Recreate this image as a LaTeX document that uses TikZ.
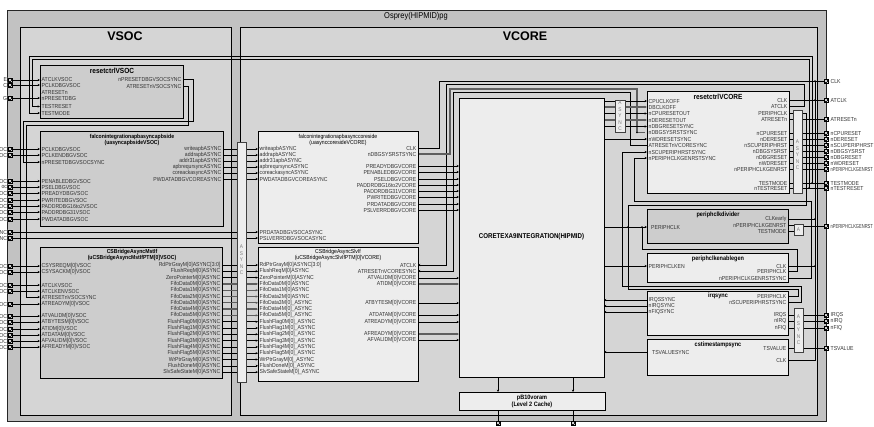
\documentclass[tikz,border=0pt]{standalone}
\usepackage{fontspec}
\setmainfont{Liberation Sans}
\newfontfamily\pf[FakeStretch=0.88]{Liberation Sans}
\newfontfamily\pfc[FakeStretch=0.7]{Liberation Sans}
\usetikzlibrary{arrows.meta}
\definecolor{outerg}{RGB}{194,194,194}
\definecolor{domg}{RGB}{213,213,213}
\definecolor{boxg}{RGB}{205,205,205}
\definecolor{boxl}{RGB}{237,237,237}
\definecolor{busg}{RGB}{95,95,95}
\definecolor{pint}{RGB}{50,50,50}
\definecolor{asyt}{RGB}{125,125,125}
\tikzset{
  pinl/.style={anchor=west,inner sep=0pt,font=\pf\fontsize{5.8}{6}\selectfont,text=pint},
  pinr/.style={anchor=east,inner sep=0pt,font=\pf\fontsize{5.8}{6}\selectfont,text=pint},
  frag/.style={anchor=east,inner sep=0pt,font=\pf\fontsize{5.8}{6}\selectfont,text=pint},
  epl/.style={anchor=west,inner sep=0pt,font=\pf\fontsize{5.8}{6}\selectfont,text=pint},
  eplc/.style={anchor=west,inner sep=0pt,font=\pfc\fontsize{5.8}{6}\selectfont,text=pint},
  gbox/.style={draw=black,line width=0.7pt,fill=boxg,anchor=north west,inner sep=0pt},
  lbox/.style={draw=black,line width=0.7pt,fill=boxl,anchor=north west,inner sep=0pt},
  abox/.style={draw=black!75,line width=0.7pt,fill=boxl,anchor=north west,inner sep=0pt},
  ttlb/.style={inner sep=0pt,align=center,font=\pf\bfseries\fontsize{5.8}{6.3}\selectfont},
  ttln/.style={inner sep=0pt,align=center,font=\pf\fontsize{5.8}{6.3}\selectfont},
  ttlbig/.style={inner sep=0pt,font=\pf\bfseries\fontsize{7.4}{8}\selectfont},
  ttlmid/.style={inner sep=0pt,font=\pf\bfseries\fontsize{6.3}{7}\selectfont},
  wire/.style={draw=black,line width=0.55pt},
  bus/.style={draw=busg,line width=1.3pt},
  ar/.style={-{Stealth[length=2.4pt,width=2.2pt]}},
  epin/.style={draw=black,fill=black,minimum size=4.6pt,inner sep=0pt,
     path picture={\draw[white,line width=0.45pt] (path picture bounding box.south west) -- (path picture bounding box.north east) (path picture bounding box.north west) -- (path picture bounding box.south east);}},
  asyl/.style={inner sep=0pt,font=\pf\fontsize{5.4}{6}\selectfont,text=asyt},
  jdot/.style={circle,fill=black,inner sep=0pt,minimum size=1.9pt},
}
\begin{document}
\begin{tikzpicture}[x=1pt,y=-1pt]
\useasboundingbox (0,0) rectangle (874,426);
% ---------- frames ----------
\path[draw=black!85,line width=0.9pt,fill=outerg] (7,10) rectangle (826,421);
\path[draw=black,line width=0.9pt,fill=domg] (20,27) rectangle (231,415);
\path[draw=black,line width=0.9pt,fill=domg] (240,27) rectangle (817,415);
\node[inner sep=0pt,font=\pf\fontsize{8.5}{9}\selectfont] (osp) at (416,16) {Osprey(HIPMID)pg};
\node[inner sep=0pt,font=\bfseries\fontsize{12.5}{13}\selectfont] (vsoc) at (125,36) {VSOC};
\node[inner sep=0pt,font=\bfseries\fontsize{12.5}{13}\selectfont] (vcore) at (525,36) {VCORE};

% ---------- wires (VSOC) ----------
\foreach \y in {80,85,98,149,155,181,187,193,200,206,212,219,266,272,285,291,304,316,322,329,335,341,347}
  \draw[wire,ar] (12,\y) -- (40,\y);
\foreach \y in {232,238} \draw[wire,ar] (12,\y) -- (258,\y);
\draw[wire,ar] (812,183) -- (812,56) -- (29,56) -- (29,113) -- (40,113);
\draw[wire,ar] (809,188) -- (809,59) -- (32,59) -- (32,106.5) -- (40,106.5);
\draw[wire,ar] (183,79) -- (193,79) -- (193,121) -- (23,121) -- (23,162) -- (40,162);
\draw[wire,ar] (183,86) -- (188,86) -- (188,125) -- (26,125) -- (26,297) -- (40,297);
\foreach \y in {149,155,161,167,173,179} \draw[wire,ar] (223,\y) -- (258,\y);
\foreach \y in {265,271.3,277.6,321.7,328,334.3,340.6,346.9,353.2,359.5,365.8,372.1}
  \draw[wire,ar] (222,\y) -- (258,\y);
\foreach \y in {283.9,290.2,296.5,302.8,309.1,315.4}
  \draw[bus,ar] (222,\y) -- (258,\y);

% ---------- wires (VCORE left) ----------
\foreach \y in {166,172,179,185,191,197,204,210} \draw[wire,ar] (418,\y) -- (459,\y);
\foreach \y in {278,303,315,322,340} \draw[wire,ar] (418,\y) -- (459,\y);
\foreach \y in {284,334} \draw[bus,ar] (418,\y) -- (459,\y);
\draw[wire] (418,148) -- (439,148) -- (439,81) -- (826,81);
\draw[wire,ar] (789,106) -- (804,106) -- (804,84) -- (446,84) -- (446,265) -- (418,265);
\draw[bus] (418,154) -- (450,154) -- (450,89) -- (637,89) -- (637,132.5) -- (645,132.5);
\draw[wire,ar] (647,145.5) -- (630,145.5) -- (630,92) -- (453,92) -- (453,271) -- (418,271);

% ---------- wires (VCORE right) ----------
\foreach \y in {101,113.5,126.5,139} \draw[wire,ar] (604,\y) -- (647,\y);
\foreach \y in {107,120} \draw[bus,ar] (604,\y) -- (647,\y);
\draw[wire,ar] (604,227) -- (647,227);
\draw[wire,ar] (604,266) -- (647,266);
\foreach \y in {300,306,312,352} \draw[wire,ar] (647,\y) -- (604,\y);
\draw[wire] (789,100) -- (826,100);
\foreach \y in {119,133,139,145,151,157,163,169,183,188} \draw[wire] (789,\y) -- (826,\y);
\draw[wire] (815,81) -- (815,360) -- (788,360);
\draw[wire] (788,266) -- (815,266);
\draw[wire] (788,219) -- (815,219);
\draw[wire] (788,225) -- (794,225);
\draw[wire] (788,231) -- (794,231);
\draw[wire] (803,226) -- (826,226);
\draw[wire] (789,113) -- (806,113) -- (806,205) -- (628,205) -- (628,289) -- (798,289) -- (798,296) -- (788,296);
\draw[wire] (788,271) -- (797,271) -- (797,249) -- (642,249) -- (642,227);
\draw[wire,ar] (788,278) -- (811,278) -- (811,201) -- (634,201) -- (634,158) -- (647,158);
\draw[wire,ar] (788,302) -- (801,302) -- (801,286) -- (622,286) -- (622,152) -- (647,152);
\foreach \y in {315,321,328,348} \draw[wire] (788,\y) -- (826,\y);
\draw[wire,ar] (498,377) -- (498,392);
\draw[wire,ar] (573,377) -- (573,392);
\draw[wire] (498,410) -- (498,423);
\draw[wire] (573,410) -- (573,423);
\foreach \p in {(815,81),(815,100),(815,219),(815,266),(812,183),(809,188),(642,227),(628,227),(637,132.5)}
  \node[jdot] at \p {};

% ---------- boxes ----------
\node[gbox,minimum width=143pt,minimum height=53pt] (rsv) at (40,65) {};
\node[gbox,minimum width=183pt,minimum height=95pt] (fav) at (40,131) {};
\node[gbox,minimum width=182pt,minimum height=131pt] (csm) at (40,247) {};
\node[abox,minimum width=9pt,minimum height=240pt] (bar) at (237,142) {};
\node[lbox,minimum width=160pt,minimum height=112pt] (fac) at (258,131) {};
\node[lbox,minimum width=160pt,minimum height=134pt] (css) at (258,247) {};
\node[lbox,minimum width=145pt,minimum height=279pt] (core) at (459,98) {};
\node[lbox,minimum width=146pt,minimum height=18pt] (l2) at (459,392) {};
\node[abox,minimum width=10pt,minimum height=32pt] (asy1) at (615,100) {};
\node[lbox,minimum width=142pt,minimum height=102pt] (rsc) at (647,91) {};
\node[abox,minimum width=9pt,minimum height=83pt] (asy2) at (793,110) {};
\node[gbox,minimum width=141pt,minimum height=34pt] (pcd) at (647,209) {};
\node[abox,minimum width=9pt,minimum height=11pt] (abx) at (794,224) {};
\node[lbox,minimum width=141pt,minimum height=29pt] (pce) at (647,253) {};
\node[lbox,minimum width=141pt,minimum height=44pt] (irq) at (647,291) {};
\node[abox,minimum width=9pt,minimum height=44pt] (asy3) at (794,308) {};
\node[lbox,minimum width=141pt,minimum height=36pt] (cst) at (647,339) {};

% ASYNC letters
\foreach \y/\c [count=\i] in {247/A,253.5/S,260/Y,266.5/N,273/C} \node[asyl] (ba\i) at (241.5,\y) {\c};
\foreach \y/\c [count=\i] in {103/A,109.5/S,116/Y,122.5/N,129/C} \node[asyl] (a1\i) at (620,\y) {\c};
\foreach \y/\c [count=\i] in {142/A,148.5/S,155/Y,161.5/N,168/C} \node[asyl] (a2\i) at (797.5,\y) {\c};
\foreach \y/\c [count=\i] in {317/A,323.5/S,330/Y,336.5/N,343/C} \node[asyl] (a3\i) at (798.5,\y) {\c};
\node[asyl] (ab) at (798.5,229.5) {A};

% ---------- titles ----------
\node[ttlbig] (trsv) at (112,71) {resetctrlVSOC};
\node[ttlb] (tfav) at (132,140) {falconintegrationapbasyncapbside\\(uasyncapbsideVSOC)};
\node[ttlb] (tcsm) at (132,255) {CSBridgeAsyncMstIf\\(uCSBridgeAsyncMstIfPTM[0]VSOC)};
\node[ttln] (tfac) at (338,140) {falconintegrationapbasynccoreside\\(uasynccoresideVCORE)};
\node[ttln] (tcss) at (338,255) {CSBridgeAsyncSlvIf\\(uCSBridgeAsyncSlvIfPTM[0]VCORE)};
\node[inner sep=0pt,font=\pf\bfseries\fontsize{7}{8}\selectfont] (tcore) at (531.5,237) {CORETEXA9INTEGRATION(HIPMID)};
\node[ttlmid,align=center,font=\pf\bfseries\fontsize{6.3}{7}\selectfont] (tl2) at (532,401) {pB10voram\\(Level 2 Cache)};
\node[ttlbig] (trsc) at (718,97) {resetctrlVCORE};
\node[ttlmid] (tpcd) at (718,215) {periphclkdivider};
\node[ttlmid] (tpce) at (718,259) {periphclkenablegen};
\node[ttlmid] (tirq) at (718,296) {irqsync};
\node[ttlmid] (tcst) at (718,345) {cstimestampsync};

% ---------- pin labels ----------
\foreach \y/\t [count=\i] in {80/ATCLKVSOC,85/PCLKDBGVSOC,92.5/ATRESETn,98/nPRESETDBG,106.5/TESTRESET,113/TESTMODE}
  \node[pinl] (rsvl\i) at (41.5,\y) {\t};
\foreach \y/\t [count=\i] in {79/nPRESETDBGVSOCSYNC,86/ATRESETnVSOCSYNC}
  \node[pinr] (rsvr\i) at (181.5,\y) {\t};
\foreach \y/\t [count=\i] in {149/PCLKDBGVSOC,155/PCLKENDBGVSOC,162/nPRESETDBGVSOCSYNC,181/PENABLEDBGVSOC,187/PSELDBGVSOC,193/PREADYDBGVSOC,200/PWRITEDBGVSOC,206/PADDRDBG16to2VSOC,212/PADDRDBG31VSOC,219/PWDATADBGVSOC}
  \node[pinl] (favl\i) at (41.5,\y) {\t};
\foreach \y/\t [count=\i] in {149/writeapbASYNC,155/addrapbASYNC,161/addr31apbASYNC,167/apbreqursyncASYNC,173/coreackasyncASYNC,179/PWDATADBGVCOREASYNC}
  \node[pinr] (favr\i) at (221.5,\y) {\t};
\foreach \y/\t [count=\i] in {266/CSYSREQM[0]VSOC,272/CSYSACKM[0]VSOC,285/ATCLKVSOC,291/ATCLKENVSOC,297/ATRESETnVSOCSYNC,304/ATREADYM[0]VSOC,316/ATVALIDM[0]VSOC,322/ATBYTESM[0]VSOC,329/ATIDM[0]VSOC,335/ATDATAM[0]VSOC,341/AFVALIDM[0]VSOC,347/AFREADYM[0]VSOC}
  \node[pinl] (csml\i) at (41.5,\y) {\t};
\foreach \y/\t [count=\i] in {265/RdPtrGrayM[0]ASYNC[3:0],271.3/FlushReqM[0]ASYNC,277.6/ZeroPointerM[0]ASYNC,283.9/FifoData0M[0]ASYNC,290.2/FifoData1M[0]ASYNC,296.5/FifoData2M[0]ASYNC,302.8/FifoData3M[0]ASYNC,309.1/FifoData4M[0]ASYNC,315.4/FifoData5M[0]ASYNC,321.7/FlushFlag0M[0]ASYNC,328/FlushFlag1M[0]ASYNC,334.3/FlushFlag2M[0]ASYNC,340.6/FlushFlag3M[0]ASYNC,346.9/FlushFlag4M[0]ASYNC,353.2/FlushFlag5M[0]ASYNC,359.5/WrPtrGrayM[0]ASYNC,365.8/FlushDoneM[0]ASYNC,372.1/SlvSafeStateM[0]ASYNC}
  \node[pinr] (csmr\i) at (220.5,\y) {\t};
\foreach \y/\t [count=\i] in {149/writeapbASYNC,155/addrapbASYNC,161/addr31apbASYNC,167/apbreqursyncASYNC,173/coreackasyncASYNC,179/PWDATADBGVCOREASYNC,232/PRDATADBGVSOCASYNC,238/PSLVERRDBGVSOCASYNC}
  \node[pinl] (facl\i) at (259.5,\y) {\t};
\foreach \y/\t [count=\i] in {148/CLK,154/nDBGSYSRSTSYNC,166/PREADYDBGVCORE,172/PENABLEDBGVCORE,179/PSELDBGVCORE,185/PADDRDBG16to2VCORE,191/PADDRDBG31VCORE,197/PWRITEDBGVCORE,204/PRDATADBGVCORE,210/PSLVERRDBGVCORE}
  \node[pinr] (facr\i) at (416.5,\y) {\t};
\foreach \y/\t [count=\i] in {265/RdPtrGrayM[0]ASYNC[3:0],271.3/FlushReqM[0]ASYNC,277.6/ZeroPointerM[0]ASYNC,283.9/FifoData0M[0]ASYNC,290.2/FifoData1M[0]ASYNC,296.5/FifoData2M[0]ASYNC,302.8/FifoData3M[0]\_ASYNC,309.1/FifoData4M[0]\_ASYNC,315.4/FifoData5M[0]\_ASYNC,321.7/FlushFlag0M[0]\_ASYNC,328/FlushFlag1M[0]\_ASYNC,334.3/FlushFlag2M[0]\_ASYNC,340.6/FlushFlag3M[0]\_ASYNC,346.9/FlushFlag4M[0]\_ASYNC,353.2/FlushFlag5M[0]\_ASYNC,359.5/WrPtrGrayM[0]\_ASYNC,365.8/FlushDoneM[0]\_ASYNC,372.1/SlvSafeStateM[0]\_ASYNC}
  \node[pinl] (cssl\i) at (259.5,\y) {\t};
\foreach \y/\t [count=\i] in {265/ATCLK,271/ATRESETnVCORESYNC,278/ATVALIDM[0]VCORE,284/ATIDM[0]VCORE,303/ATBYTESM[0]VCORE,315/ATDATAM[0]VCORE,322/ATREADYM[0]VCORE,334/AFREADYM[0]VCORE,340/AFVALIDM[0]VCORE}
  \node[pinr] (cssr\i) at (416.5,\y) {\t};
\foreach \y/\t [count=\i] in {101/CPUCLKOFF,107/DBCLKOFF,113.5/nCPURESETOUT,120/nDERESETOUT,126.5/nDBGRESETSYNC,132.5/nDBGSYSRSTSYNC,139/nWDRESETSYNC,145.5/ATRESETnVCORESYNC,152/nSCUPERIPHRSTSYNC,158/nPERIPHCLKGENRSTSYNC}
  \node[pinl] (rscl\i) at (648.5,\y) {\t};
\foreach \y/\t [count=\i] in {100/CLK,106/ATCLK,113/PERIPHCLK,119/ATRESETn,133/nCPURESET,139/nDERESET,145/nSCUPERIPHRST,151/nDBGSYSRST,157/nDBGRESET,163/nWDRESET,169/nPERIPHCLKGENRST,183/TESTMODE,188/nTESTRESET}
  \node[pinr] (rscr\i) at (787.5,\y) {\t};
\node[pinl] (pcdl) at (651,227) {PERIPHCLK};
\foreach \y/\t [count=\i] in {219/CLKearly,225/nPERIPHCLKGENRST,231/TESTMODE}
  \node[pinr] (pcdr\i) at (786.5,\y) {\t};
\node[pinl] (pcel) at (648.5,266) {PERIPHCLKEN};
\foreach \y/\t [count=\i] in {266/CLK,271/PERIPHCLK,278/nPERIPHCLKGENRSTSYNC}
  \node[pinr] (pcer\i) at (786.5,\y) {\t};
\foreach \y/\t [count=\i] in {300/IRQSSYNC,306/nIRQSYNC,312/nFIQSYNC}
  \node[pinl] (irql\i) at (648.5,\y) {\t};
\foreach \y/\t [count=\i] in {296/PERIPHCLK,302/nSCUPERIPHRSTSYNC,315/IRQS,321/nIRQ,328/nFIQ}
  \node[pinr] (irqr\i) at (786.5,\y) {\t};
\node[pinl] (cstl) at (652,352) {TSVALUESYNC};
\foreach \y/\t [count=\i] in {348/TSVALUE,360/CLK}
  \node[pinr] (cstr\i) at (786.5,\y) {\t};

% ---------- edge pins ----------
\foreach \y/\t [count=\i] in {80/E,85/C,98/G,149/OC,155/OC,181/OC,187/oc,193/OC,200/OC,206/OC,212/OC,219/OC,232/NC,238/NC,266/OC,272/OC,285/OC,291/OC,304/OC,316/OC,322/OC,329/OC,335/OC,341/OC,347/OC}{
  \node[epin] (lp\i) at (10,\y) {};
  \node[frag] (lf\i) at (7.2,\y) {\t};
}
\foreach \y/\t [count=\i] in {81/CLK,100/ATCLK,119/ATRESETn,133/nCPURESET,139/nDERESET,145/nSCUPERIPHRST,151/nDBGSYSRST,157/nDBGRESET,163/nWDRESET,183/TESTMODE,188/nTESTRESET,315/IRQS,321/nIRQ,328/nFIQ,348/TSVALUE}{
  \node[epin] (rp\i) at (826,\y) {};
  \node[epl] (rl\i) at (830.5,\y) {\t};
}
\node[epin] (rpa) at (826,169) {};
\node[eplc] (rla) at (830.5,169) {nPERIPHCLKGENRST};
\node[epin] (rpb) at (826,226) {};
\node[eplc] (rlb) at (830.5,226) {nPERIPHCLKGENRST};
\node[epin] (bp1) at (498,423) {};
\node[epin] (bp2) at (573,423) {};
\end{tikzpicture}
\end{document}
